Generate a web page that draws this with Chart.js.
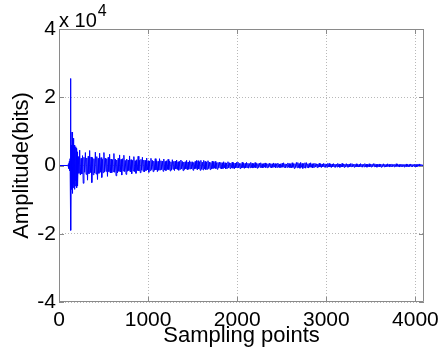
<!DOCTYPE html>
<html>
<head>
<meta charset="utf-8">
<script src="https://cdn.jsdelivr.net/npm/chart.js@4.4.1/dist/chart.umd.min.js"></script>
<style>
  html, body { margin: 0; padding: 0; background: #ffffff; }
  #wrap { width: 439px; height: 356px; }
</style>
</head>
<body>
<div id="wrap"><canvas id="sinal" width="439" height="356"></canvas></div>
<script>
// Sinal (amostras x amplitude em bits)

// inicio: trecho plano e o impulso principal (pontos irregulares)
const onsetX = [0, 96, 100, 104, 108, 112, 116, 120, 124, 128, 131, 134, 138, 142, 146, 150,
    154, 158, 162, 166, 170, 174, 178, 182, 186, 190, 194, 198, 202];
const onsetY = [0, 0, 200, -400, 600, -900, 1200, -1500, 2000, -3000, 25500, -19000, 6000, -7000, 9800, -8200,
    7000, -6500, 8000, -5500, 6000, -7000, 4500, -6000, 5500, -4500, 5000, -6500, 4000];

// cauda: uma amostra a cada 8 pontos a partir de 208 (linhas de 128 amostras)
const tailStart = 208;
const tailStep = 8;
const tailY = [
    -6000, 2600, -2300, 4500, -2800, 2100, -2500, 2900, -5200, 2400, -2000, 3800, -2600, 2200, -4300, 2700,
    -2400, 4400, -2100, 2500, -5000, 2300, -2700, 2000, -2200, 3900, -2500, 2600, -4100, 2100, -2300, 3600,
    -2000, 2300, -3500, 1800, -2100, 3800, -1900, 2200, -1700, 2000, -3200, 2400, -1800, 3300, -2200, 1900,
    -2100, 1700, -1800, 3500, -2000, 1900, -3000, 1600, -2200, 2100, -1700, 3100, -1900, 1800, -2800, 2000,
    -1600, 3000, -1800, 1500, -2600, 1900, -1700, 1600, -1500, 2800, -1900, 1700, -2400, 1500, -1600, 2600,
    -1800, 1400, -2300, 1700, -1500, 2700, -1600, 1500, -2100, 1800, -1400, 2400, -1700, 1600, -1900, 1500,
    -1500, 2200, -1300, 1400, -2000, 1300, -1500, 2100, -1200, 1500, -1800, 1300, -1400, 2000, -1300, 1400,
    -1800, 1200, -1400, 2000, -1300, 1400, -1200, 1300, -1700, 1900, -1300, 1200, -1500, 1400, -1200, 1800,
    -1200, 1300, -1600, 1100, -1300, 1700, -1100, 1200, -1500, 1300, -1000, 1600, -1200, 1100, -1400, 1200,
    -1100, 1600, -1000, 1200, -1500, 1000, -1200, 1100, -1000, 1500, -1300, 1000, -1100, 1400, -1000, 1100,
    -1000, 1100, -1400, 900, -1000, 1200, -900, 1500, -1300, 1400, -1000, 1100, -1400, 1500, -1100, 1000,
    -1300, 1500, -1000, 1200, -1200, 1000, -1100, 1400, -900, 1000, -1200, 900, -1000, 1300, -900, 1000,
    -800, 1200, -900, 800, -1100, 900, -700, 1000, -800, 900, -1000, 800, -900, 1100, -700, 800,
    -1000, 700, -800, 1100, -700, 800, -900, 700, -650, 1000, -800, 750, -950, 700, -700, 900,
    -650, 1000, -700, 650, -900, 600, -700, 950, -650, 700, -850, 600, -700, 900, -600, 650,
    -800, 600, -650, 900, -600, 650, -750, 550, -600, 850, -650, 600, -800, 550, -600, 700,
    -550, 800, -600, 500, -700, 550, -500, 750, -600, 550, -650, 500, -550, 700, -500, 550,
    -700, 500, -550, 750, -500, 550, -650, 500, -550, 700, -500, 450, -650, 500, -550, 650,
    -500, 800, -550, 500, -700, 450, -550, 750, -500, 550, -650, 500, -700, 800, -550, 500,
    -850, 550, -600, 900, -650, 850, -600, 550, -800, 900, -550, 600, -850, 550, -600, 800,
    -800, 850, -550, 500, -750, 600, -500, 800, -550, 500, -700, 550, -500, 650, -450, 500,
    -600, 450, -500, 650, -450, 500, -600, 450, -400, 600, -450, 500, -550, 450, -500, 600,
    -400, 600, -450, 400, -600, 450, -400, 550, -450, 400, -550, 400, -450, 600, -400, 450,
    -550, 400, -450, 600, -400, 450, -550, 400, -400, 550, -450, 400, -500, 450, -400, 550,
    -350, 550, -400, 350, -500, 400, -350, 500, -400, 350, -450, 350, -400, 550, -350, 400,
    -500, 350, -400, 550, -350, 400, -500, 350, -350, 500, -400, 350, -450, 400, -350, 550,
    -350, 500, -400, 350, -500, 350, -350, 450, -400, 350, -500, 350, -350, 500, -400, 350,
    -450, 300, -350, 500, -300, 350, -450, 300, -300, 450, -350, 300, -400, 350, -300, 500,
    -300, 450, -350, 300, -450, 300, -300, 400, -350, 300, -450, 300, -300, 450, -350, 300,
    -400, 300, -300, 450, -300, 350, -400, 300, -300, 400, -350, 300, -400, 300, -250, 450,
    -300, 250, -250, 300, -200, 150, 0
];

// eixos
const xMin = 0, xMax = 4096, xStep = 1000;
const yMin = -40000, yMax = 40000, yStep = 20000;
const yExpoente = 4;

const fonte = 'Liberation Sans, Arial, Helvetica, sans-serif';
const corCaixa = '#8a8a8a';
const azul = '#0000ff';

// montar pontos
const pontos = onsetX.map((x, i) => ({ x: x, y: onsetY[i] }));
tailY.forEach((y, i) => pontos.push({ x: tailStart + i * tailStep, y: y }));

// caixa completa, marcas internas e o "x 10^4"
const caixaPlugin = {
    id: 'caixa',
    afterDraw(chart) {
        const ctx = chart.ctx;
        const a = chart.chartArea;
        const sx = chart.scales.x;
        const sy = chart.scales.y;
        ctx.save();
        ctx.strokeStyle = corCaixa;
        ctx.lineWidth = 1;
        ctx.beginPath();
        ctx.rect(Math.round(a.left) + 0.5, Math.round(a.top) + 0.5,
            Math.round(a.right - a.left) - 1, Math.round(a.bottom - a.top) - 1);
        ctx.stroke();

        const tam = 5;
        ctx.beginPath();
        sx.ticks.forEach(t => {
            const px = Math.round(sx.getPixelForValue(t.value)) + 0.5;
            ctx.moveTo(px, a.bottom); ctx.lineTo(px, a.bottom - tam);
            ctx.moveTo(px, a.top); ctx.lineTo(px, a.top + tam);
        });
        sy.ticks.forEach(t => {
            const py = Math.round(sy.getPixelForValue(t.value)) + 0.5;
            ctx.moveTo(a.left, py); ctx.lineTo(a.left + tam, py);
            ctx.moveTo(a.right, py); ctx.lineTo(a.right - tam, py);
        });
        ctx.stroke();

        ctx.fillStyle = '#000000';
        ctx.textBaseline = 'alphabetic';
        ctx.textAlign = 'left';
        ctx.font = '20px ' + fonte;
        ctx.fillText('x 10', a.left, 27);
        const w = ctx.measureText('x 10').width;
        ctx.font = '16px ' + fonte;
        ctx.fillText(String(yExpoente), a.left + w + 1, 16);
        ctx.restore();
    }
};

new Chart(document.getElementById('sinal'), {
    type: 'line',
    data: {
        datasets: [{
            data: pontos,
            borderColor: azul,
            borderWidth: 1,
            pointRadius: 0,
            tension: 0,
            fill: false
        }]
    },
    options: {
        responsive: false,
        animation: false,
        events: [],
        layout: { padding: { top: 29, right: 15, bottom: 0, left: 0 } },
        plugins: {
            legend: { display: false },
            tooltip: { enabled: false }
        },
        scales: {
            x: {
                type: 'linear',
                min: xMin,
                max: xMax,
                afterBuildTicks(scale) {
                    const t = [];
                    for (let v = xMin; v <= xMax; v += xStep) t.push({ value: v });
                    scale.ticks = t;
                },
                ticks: {
                    font: { family: fonte, size: 21 },
                    color: '#000000',
                    padding: 6,
                    maxRotation: 0,
                    callback: v => String(v)
                },
                grid: { color: '#b8b8b8', drawTicks: false },
                border: { display: false, dash: [1, 2] },
                title: {
                    display: true,
                    text: 'Sampling points',
                    font: { family: fonte, size: 22 },
                    color: '#000000',
                    padding: { top: 0, bottom: 7 }
                },
                afterFit(scale) {
                    scale.height = 54;
                    scale.paddingLeft = 0;
                    scale.paddingRight = 0;
                }
            },
            y: {
                min: yMin,
                max: yMax,
                ticks: {
                    stepSize: yStep,
                    font: { family: fonte, size: 21 },
                    color: '#000000',
                    padding: 3,
                    callback: v => String(v / Math.pow(10, yExpoente))
                },
                grid: { color: '#b8b8b8', drawTicks: false },
                border: { display: false, dash: [1, 2] },
                title: {
                    display: true,
                    text: 'Amplitude(bits)',
                    font: { family: fonte, size: 22 },
                    color: '#000000',
                    padding: { top: 9, bottom: 0 }
                },
                afterFit(scale) {
                    scale.width = 59;
                    scale.paddingTop = 0;
                    scale.paddingBottom = 0;
                }
            }
        }
    },
    plugins: [caixaPlugin]
});
</script>
</body>
</html>
